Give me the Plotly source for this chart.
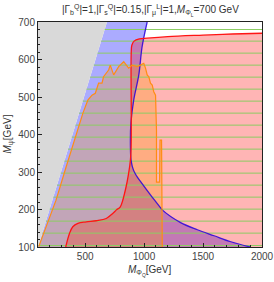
import plotly.graph_objects as go

# ---- data ----
gray_edge_x = [100, 685]
gray_edge_y = [100, 700]

blue_x = [1026, 983, 955, 912, 888, 884, 890, 910, 935, 969, 1054, 1139, 1154, 1310, 1452, 1594, 1736, 1900]
blue_y = [700, 634, 559, 492, 430, 370, 330, 305, 290, 275, 239, 205, 199, 165, 146, 130, 114, 100]

red_x = [335, 367, 395, 438, 509, 594, 679, 736, 765, 798, 841, 869, 884, 890, 891, 891, 896, 915, 960, 1026, 1200, 1500, 1750, 2000]
red_y = [100, 136, 154, 163, 167, 170, 176, 190, 199, 207, 252, 297, 332, 370, 450, 620, 638, 649, 655, 657, 661, 665, 668, 670]

orange_x = [106, 168, 253, 339, 424, 481, 523, 558, 586, 614, 643, 656, 699, 713, 742, 784, 827, 856, 869, 898,
            941, 969, 997, 1012, 1026, 1040, 1054, 1069, 1082, 1097, 1105, 1105, 1131, 1135, 1148, 1154]
orange_y = [101, 154, 225, 314, 403, 457, 492, 505, 510, 537, 537, 554, 572, 585, 559, 581, 594, 581, 577, 585,
            581, 585, 590, 577, 559, 554, 537, 532, 514, 505, 412, 273, 273, 385, 385, 100]

green_levels = [104, 137, 169, 201, 233, 265, 297, 329, 361, 393, 425, 457, 489, 521, 553, 585, 617, 649, 680]

x_ticks = [500, 1000, 1500, 2000]
y_ticks = [100, 200, 300, 400, 500, 600, 700]

XMIN, XMAX, YMIN, YMAX = 100, 2000, 100, 700

fig = go.Figure()

def edge_x_at(y):
    (x0, x1), (y0, y1) = gray_edge_x, gray_edge_y
    return x0 + (x1 - x0) * (y - y0) / (y1 - y0)

# blue region: between gray edge and blue curve
bx = [gray_edge_x[0], gray_edge_x[1]] + blue_x + [gray_edge_x[0]]
by = [gray_edge_y[0], gray_edge_y[1]] + blue_y + [gray_edge_y[0]]
fig.add_trace(go.Scatter(x=bx, y=by, fill="toself", fillcolor="rgba(0,0,255,0.33)",
                         line=dict(width=0), mode="lines", hoverinfo="skip"))

# red region: right of red curve
rx = red_x + [XMAX, red_x[0]]
ry = red_y + [YMIN, YMIN]
fig.add_trace(go.Scatter(x=rx, y=ry, fill="toself", fillcolor="rgba(255,0,0,0.29)",
                         line=dict(width=0), mode="lines", hoverinfo="skip"))

# orange region: under orange curve
ox = orange_x + [orange_x[0]]
oy = orange_y + [YMIN]
fig.add_trace(go.Scatter(x=ox, y=oy, fill="toself", fillcolor="rgba(255,150,0,0.28)",
                         line=dict(width=0), mode="lines", hoverinfo="skip"))

# gray region
gx = [gray_edge_x[0], gray_edge_x[1], XMIN, XMIN]
gy = [gray_edge_y[0], gray_edge_y[1], YMAX, YMIN]
fig.add_trace(go.Scatter(x=gx, y=gy, fill="toself", fillcolor="#d9d9d9",
                         line=dict(width=0), mode="lines", hoverinfo="skip"))

# green lines
glx, gly = [], []
for lv in green_levels:
    glx += [edge_x_at(lv), XMAX, None]
    gly += [lv, lv, None]
fig.add_trace(go.Scatter(x=glx, y=gly, mode="lines", line=dict(color="rgb(140,205,100)", width=1),
                         hoverinfo="skip"))

# boundary lines
fig.add_trace(go.Scatter(x=blue_x, y=blue_y, mode="lines", line=dict(color="rgba(40,0,220,0.85)", width=1.3),
                         line_shape="spline", hoverinfo="skip"))
fig.add_trace(go.Scatter(x=red_x, y=red_y, mode="lines", line=dict(color="rgb(255,20,20)", width=1.3),
                         line_shape="spline", hoverinfo="skip"))
fig.add_trace(go.Scatter(x=orange_x, y=orange_y, mode="lines", line=dict(color="rgb(255,140,20)", width=1.2),
                         hoverinfo="skip"))

axis_common = dict(showgrid=False, zeroline=False, showline=True, linecolor="#222", linewidth=1,
                   mirror=True, ticks="inside", ticklen=4, tickcolor="#222", automargin=False,
                   tickfont=dict(family="Liberation Sans, Arial", size=10, color="#444"))

fig.update_xaxes(range=[XMIN, XMAX], tickvals=x_ticks, ticktext=[str(v) for v in x_ticks],
                 minor=dict(tickvals=list(range(200, 2000, 100)), ticks="inside", ticklen=2, tickcolor="#222"),
                 **axis_common)
fig.update_yaxes(range=[YMIN, YMAX], tickvals=y_ticks, ticktext=[str(v) for v in y_ticks],
                 minor=dict(tickvals=[v for v in range(120, 700, 20) if v % 100], ticks="inside",
                            ticklen=2, tickcolor="#222"),
                 **axis_common)

fig.update_layout(
    template="none",
    width=274, height=282,
    margin=dict(l=38, r=12, t=22, b=35),
    paper_bgcolor="white", plot_bgcolor="white",
    showlegend=False,
    font=dict(family="Liberation Sans, Arial", color="#333"),
    annotations=[
        dict(text="|Γ<sub>b</sub><sup>Q</sup>|=1,|Γ<sub>s</sub><sup>Q</sup>|=0.15,|Γ<sub>μ</sub><sup>L</sup>|=1,<i>M</i><sub>Φ<sub>L</sub></sub>=700 GeV",
             xref="paper", yref="paper", x=0.5, y=1, yshift=12, xanchor="center", yanchor="middle",
             showarrow=False, font=dict(size=10, color="#333")),
        dict(text="<i>M</i><sub>Φ<sub>Q</sub></sub>[GeV]", xref="paper", yref="paper", x=0.5, y=0,
             yshift=-24, xanchor="center", yanchor="middle", showarrow=False, font=dict(size=10, color="#333")),
        dict(text="<i>M</i><sub>ψ</sub>[GeV]", xref="paper", yref="paper", x=0, y=0.5, xshift=-30,
             textangle=-90, xanchor="center", yanchor="middle", showarrow=False, font=dict(size=10, color="#333")),
    ],
)

fig.write_html("out.html", config={"displayModeBar": False},
               post_script="document.body.style.margin='0';document.body.style.overflow='hidden';")
